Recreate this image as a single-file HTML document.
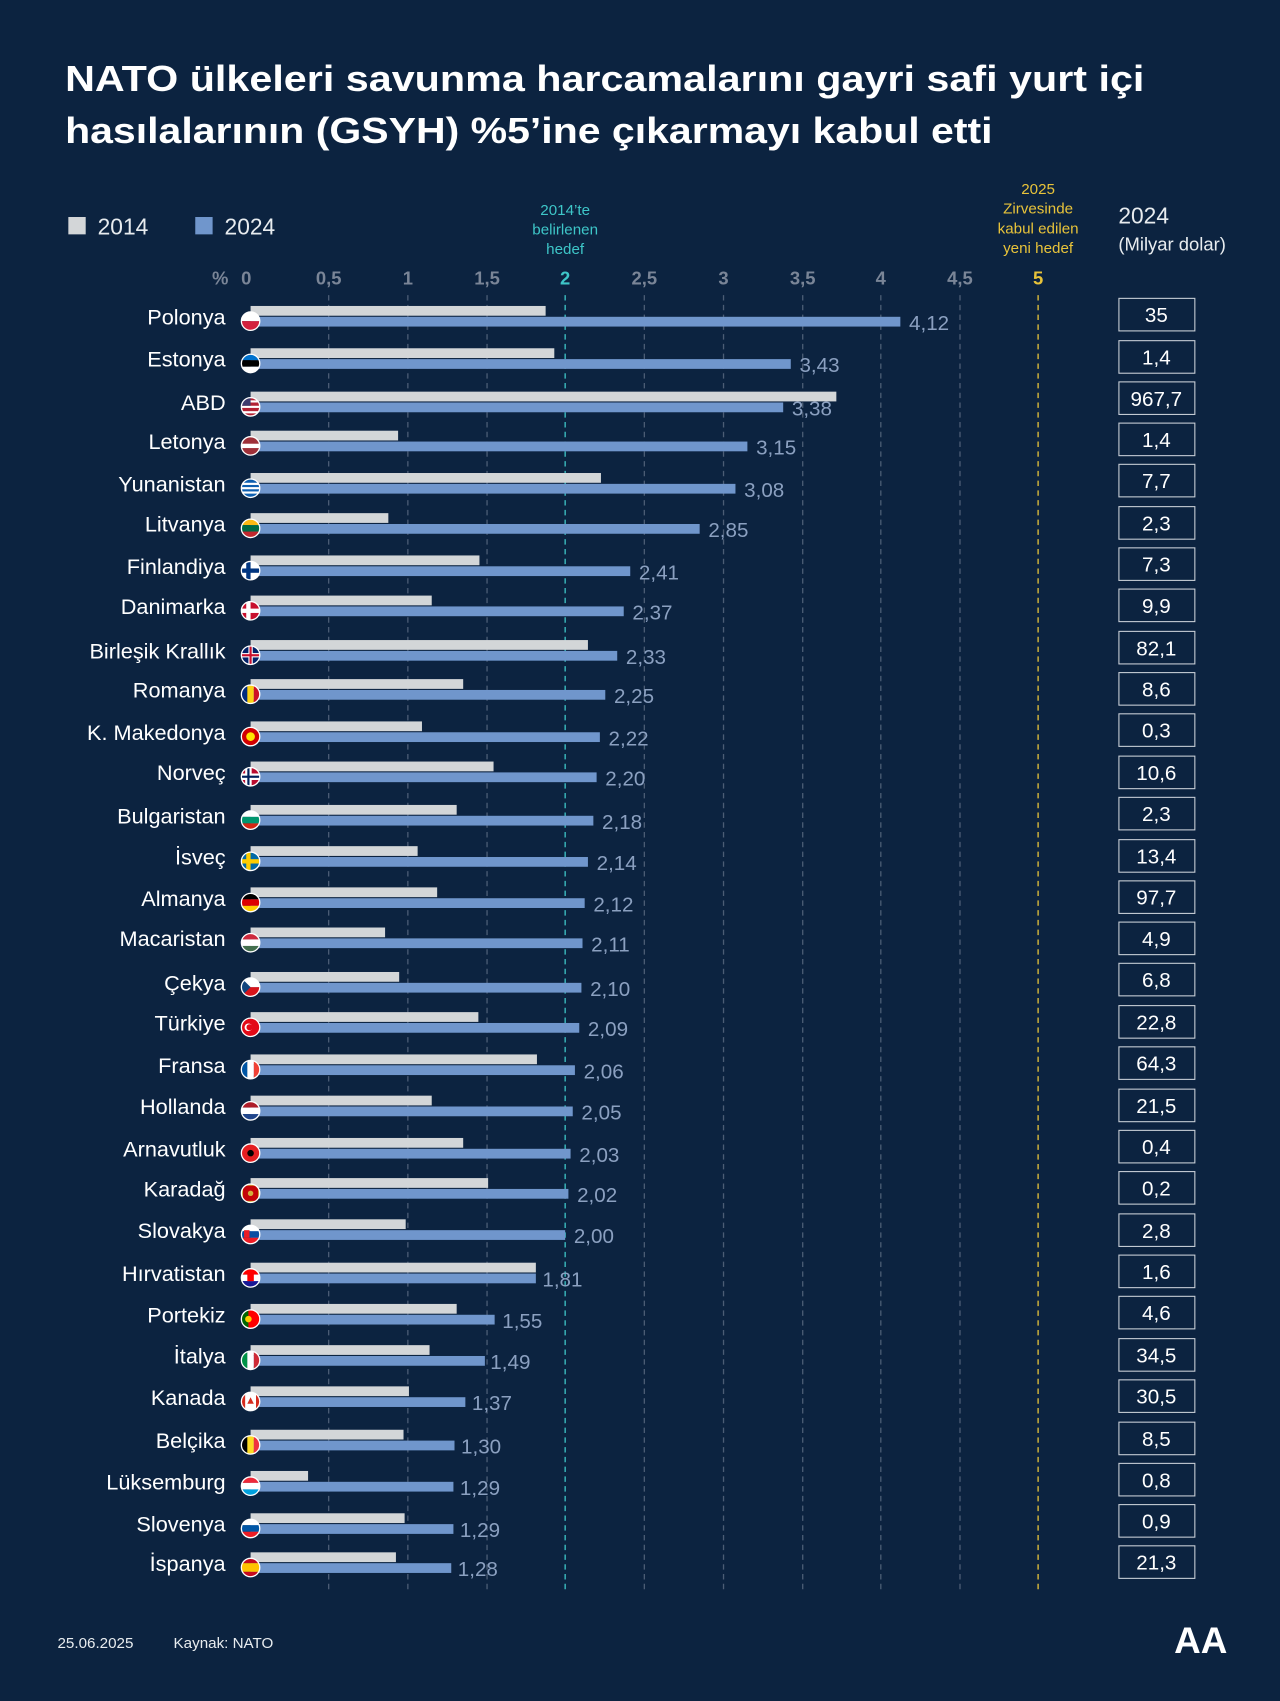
<!DOCTYPE html>
<html><head><meta charset="utf-8"><style>
html,body{margin:0;padding:0;background:#0c2340;}
svg{display:block}
text{font-family:"Liberation Sans","DejaVu Sans",sans-serif;}
.g{fill:#d3d6d8}.b{fill:#7096cc}
.v{fill:#8ba0c0;font-size:19px}
.n{fill:#fff;font-size:20px;text-anchor:end}
.bx{fill:none;stroke:#c8ced6;stroke-width:1}
.bt{fill:#fff;font-size:19px;text-anchor:middle}
.fr{fill:none;stroke:#fff;stroke-width:1.2}
</style></head><body>
<svg width="1280" height="1701" viewBox="0 0 1180 1568" xmlns="http://www.w3.org/2000/svg">
<defs><clipPath id="fc"><circle cx="231" cy="4" r="8.5"/></clipPath></defs>
<rect width="1180" height="1568" fill="#0c2340"/>
<text x="60" y="84" fill="#fff" font-size="33" font-weight="bold" textLength="995" lengthAdjust="spacingAndGlyphs">NATO ülkeleri savunma harcamalarını gayri safi yurt içi</text>
<text x="60" y="132" fill="#fff" font-size="33" font-weight="bold" textLength="855" lengthAdjust="spacingAndGlyphs">hasılalarının (GSYH) %5’ine çıkarmayı kabul etti</text>
<rect x="63" y="200" width="16" height="16" fill="#d3d6d8"/>
<text x="90" y="216" fill="#e8ecef" font-size="21">2014</text>
<rect x="180" y="200" width="16" height="16" fill="#7096cc"/>
<text x="207" y="216" fill="#e8ecef" font-size="21">2024</text>
<g font-size="14" text-anchor="middle">
<text x="521" y="198" fill="#3ec6c8">2014’te</text>
<text x="521" y="216" fill="#3ec6c8">belirlenen</text>
<text x="521" y="234" fill="#3ec6c8">hedef</text>
<text x="957" y="179" fill="#e8c33a">2025</text>
<text x="957" y="197" fill="#e8c33a">Zirvesinde</text>
<text x="957" y="215" fill="#e8c33a">kabul edilen</text>
<text x="957" y="233" fill="#e8c33a">yeni hedef</text>
</g>
<text x="1031" y="206" fill="#e8ecef" font-size="21">2024</text>
<text x="1031" y="231" fill="#e8ecef" font-size="17">(Milyar dolar)</text>
<g font-size="17" font-weight="bold" text-anchor="middle" fill="#7a8597">
<text x="203" y="262">%</text><text x="227" y="262">0</text><text x="303" y="262">0,5</text><text x="376" y="262">1</text><text x="449" y="262">1,5</text><text x="521" y="262" fill="#3ec6c8">2</text><text x="594" y="262">2,5</text><text x="667" y="262">3</text><text x="740" y="262">3,5</text><text x="812" y="262">4</text><text x="885" y="262">4,5</text><text x="957" y="262" fill="#e8c33a">5</text>
</g>
<g stroke-dasharray="5,4" stroke-width="1.2">
<line x1="303" y1="272" x2="303" y2="1465" stroke="#4c5d75"/>
<line x1="376" y1="272" x2="376" y2="1465" stroke="#4c5d75"/>
<line x1="449" y1="272" x2="449" y2="1465" stroke="#4c5d75"/>
<line x1="521" y1="272" x2="521" y2="1465" stroke="#3ec6c8"/>
<line x1="594" y1="272" x2="594" y2="1465" stroke="#4c5d75"/>
<line x1="667" y1="272" x2="667" y2="1465" stroke="#4c5d75"/>
<line x1="740" y1="272" x2="740" y2="1465" stroke="#4c5d75"/>
<line x1="812" y1="272" x2="812" y2="1465" stroke="#4c5d75"/>
<line x1="885" y1="272" x2="885" y2="1465" stroke="#4c5d75"/>
<line x1="957" y1="272" x2="957" y2="1465" stroke="#e8c33a"/>
</g>

<g transform="translate(0,292)"><rect x="231" y="-10" width="272" height="9" class="g"/><rect x="231" y="0" width="599" height="9" class="b"/><text x="838" y="12" class="v">4,12</text><text x="208" y="7" class="n">Polonya</text><g clip-path="url(#fc)"><rect x="222" y="-5" width="18" height="9" fill="#fff"/><rect x="222" y="4" width="18" height="9" fill="#d4213d"/></g><circle cx="231" cy="4" r="8.5" class="fr"/><rect x="1031.5" y="-17" width="70" height="30" class="bx"/><text x="1066" y="5" class="bt">35</text></g>
<g transform="translate(0,331)"><rect x="231" y="-10" width="280" height="9" class="g"/><rect x="231" y="0" width="498" height="9" class="b"/><text x="737" y="12" class="v">3,43</text><text x="208" y="7" class="n">Estonya</text><g clip-path="url(#fc)"><rect x="222" y="-5" width="18" height="6" fill="#0072ce"/><rect x="222" y="1" width="18" height="6" fill="#000"/><rect x="222" y="7" width="18" height="6" fill="#fff"/></g><circle cx="231" cy="4" r="8.5" class="fr"/><rect x="1031.5" y="-17" width="70" height="30" class="bx"/><text x="1066" y="5" class="bt">1,4</text></g>
<g transform="translate(0,371)"><rect x="231" y="-10" width="540" height="9" class="g"/><rect x="231" y="0" width="491" height="9" class="b"/><text x="730" y="12" class="v">3,38</text><text x="208" y="7" class="n">ABD</text><g clip-path="url(#fc)"><rect x="222" y="-5" width="18" height="18" fill="#b22234"/><rect x="222" y="-2" width="18" height="2" fill="#fff"/><rect x="222" y="3" width="18" height="2" fill="#fff"/><rect x="222" y="8" width="18" height="2" fill="#fff"/><rect x="222" y="-5" width="9" height="8" fill="#3c3b6e"/></g><circle cx="231" cy="4" r="8.5" class="fr"/><rect x="1031.5" y="-19" width="70" height="30" class="bx"/><text x="1066" y="3" class="bt">967,7</text></g>
<g transform="translate(0,407)"><rect x="231" y="-10" width="136" height="9" class="g"/><rect x="231" y="0" width="458" height="9" class="b"/><text x="697" y="12" class="v">3,15</text><text x="208" y="7" class="n">Letonya</text><g clip-path="url(#fc)"><rect x="222" y="-5" width="18" height="18" fill="#9e3039"/><rect x="222" y="2" width="18" height="4" fill="#fff"/></g><circle cx="231" cy="4" r="8.5" class="fr"/><rect x="1031.5" y="-17" width="70" height="30" class="bx"/><text x="1066" y="5" class="bt">1,4</text></g>
<g transform="translate(0,446)"><rect x="231" y="-10" width="323" height="9" class="g"/><rect x="231" y="0" width="447" height="9" class="b"/><text x="686" y="12" class="v">3,08</text><text x="208" y="7" class="n">Yunanistan</text><g clip-path="url(#fc)"><rect x="222" y="-5" width="18" height="18" fill="#0d5eaf"/><rect x="222" y="-1" width="18" height="2" fill="#fff"/><rect x="222" y="3" width="18" height="2" fill="#fff"/><rect x="222" y="7" width="18" height="2" fill="#fff"/></g><circle cx="231" cy="4" r="8.5" class="fr"/><rect x="1031.5" y="-18" width="70" height="30" class="bx"/><text x="1066" y="4" class="bt">7,7</text></g>
<g transform="translate(0,483)"><rect x="231" y="-10" width="127" height="9" class="g"/><rect x="231" y="0" width="414" height="9" class="b"/><text x="653" y="12" class="v">2,85</text><text x="208" y="7" class="n">Litvanya</text><g clip-path="url(#fc)"><rect x="222" y="-5" width="18" height="6" fill="#fdb913"/><rect x="222" y="1" width="18" height="6" fill="#006a44"/><rect x="222" y="7" width="18" height="6" fill="#c1272d"/></g><circle cx="231" cy="4" r="8.5" class="fr"/><rect x="1031.5" y="-16" width="70" height="30" class="bx"/><text x="1066" y="6" class="bt">2,3</text></g>
<g transform="translate(0,522)"><rect x="231" y="-10" width="211" height="9" class="g"/><rect x="231" y="0" width="350" height="9" class="b"/><text x="589" y="12" class="v">2,41</text><text x="208" y="7" class="n">Finlandiya</text><g clip-path="url(#fc)"><rect x="222" y="-5" width="18" height="18" fill="#fff"/><rect x="222" y="2" width="18" height="4" fill="#003580"/><rect x="227" y="-5" width="4" height="18" fill="#003580"/></g><circle cx="231" cy="4" r="8.5" class="fr"/><rect x="1031.5" y="-17" width="70" height="30" class="bx"/><text x="1066" y="5" class="bt">7,3</text></g>
<g transform="translate(0,559)"><rect x="231" y="-10" width="167" height="9" class="g"/><rect x="231" y="0" width="344" height="9" class="b"/><text x="583" y="12" class="v">2,37</text><text x="208" y="7" class="n">Danimarka</text><g clip-path="url(#fc)"><rect x="222" y="-5" width="18" height="18" fill="#c8102e"/><rect x="222" y="2" width="18" height="4" fill="#fff"/><rect x="227" y="-5" width="4" height="18" fill="#fff"/></g><circle cx="231" cy="4" r="8.5" class="fr"/><rect x="1031.5" y="-16" width="70" height="30" class="bx"/><text x="1066" y="6" class="bt">9,9</text></g>
<g transform="translate(0,600)"><rect x="231" y="-10" width="311" height="9" class="g"/><rect x="231" y="0" width="338" height="9" class="b"/><text x="577" y="12" class="v">2,33</text><text x="208" y="7" class="n">Birleşik Krallık</text><g clip-path="url(#fc)"><rect x="222" y="-5" width="18" height="18" fill="#012169"/><rect x="222" y="2" width="18" height="4" fill="#fff"/><rect x="229" y="-5" width="4" height="18" fill="#fff"/><rect x="222" y="3" width="18" height="2" fill="#c8102e"/><rect x="230" y="-5" width="2" height="18" fill="#c8102e"/></g><circle cx="231" cy="4" r="8.5" class="fr"/><rect x="1031.5" y="-18" width="70" height="30" class="bx"/><text x="1066" y="4" class="bt">82,1</text></g>
<g transform="translate(0,636)"><rect x="231" y="-10" width="196" height="9" class="g"/><rect x="231" y="0" width="327" height="9" class="b"/><text x="566" y="12" class="v">2,25</text><text x="208" y="7" class="n">Romanya</text><g clip-path="url(#fc)"><rect x="222" y="-5" width="6" height="18" fill="#002b7f"/><rect x="228" y="-5" width="6" height="18" fill="#fcd116"/><rect x="234" y="-5" width="6" height="18" fill="#ce1126"/></g><circle cx="231" cy="4" r="8.5" class="fr"/><rect x="1031.5" y="-16" width="70" height="30" class="bx"/><text x="1066" y="6" class="bt">8,6</text></g>
<g transform="translate(0,675)"><rect x="231" y="-10" width="158" height="9" class="g"/><rect x="231" y="0" width="322" height="9" class="b"/><text x="561" y="12" class="v">2,22</text><text x="208" y="7" class="n">K. Makedonya</text><g clip-path="url(#fc)"><rect x="222" y="-5" width="18" height="18" fill="#d20000"/><circle cx="231" cy="4" r="4" fill="#ffe600"/></g><circle cx="231" cy="4" r="8.5" class="fr"/><rect x="1031.5" y="-17" width="70" height="30" class="bx"/><text x="1066" y="5" class="bt">0,3</text></g>
<g transform="translate(0,712)"><rect x="231" y="-10" width="224" height="9" class="g"/><rect x="231" y="0" width="319" height="9" class="b"/><text x="558" y="12" class="v">2,20</text><text x="208" y="7" class="n">Norveç</text><g clip-path="url(#fc)"><rect x="222" y="-5" width="18" height="18" fill="#ba0c2f"/><rect x="222" y="1" width="18" height="6" fill="#fff"/><rect x="226" y="-5" width="6" height="18" fill="#fff"/><rect x="222" y="3" width="18" height="2" fill="#00205b"/><rect x="228" y="-5" width="2" height="18" fill="#00205b"/></g><circle cx="231" cy="4" r="8.5" class="fr"/><rect x="1031.5" y="-15" width="70" height="30" class="bx"/><text x="1066" y="7" class="bt">10,6</text></g>
<g transform="translate(0,752)"><rect x="231" y="-10" width="190" height="9" class="g"/><rect x="231" y="0" width="316" height="9" class="b"/><text x="555" y="12" class="v">2,18</text><text x="208" y="7" class="n">Bulgaristan</text><g clip-path="url(#fc)"><rect x="222" y="-5" width="18" height="6" fill="#fff"/><rect x="222" y="1" width="18" height="6" fill="#00966e"/><rect x="222" y="7" width="18" height="6" fill="#d62612"/></g><circle cx="231" cy="4" r="8.5" class="fr"/><rect x="1031.5" y="-17" width="70" height="30" class="bx"/><text x="1066" y="5" class="bt">2,3</text></g>
<g transform="translate(0,790)"><rect x="231" y="-10" width="154" height="9" class="g"/><rect x="231" y="0" width="311" height="9" class="b"/><text x="550" y="12" class="v">2,14</text><text x="208" y="7" class="n">İsveç</text><g clip-path="url(#fc)"><rect x="222" y="-5" width="18" height="18" fill="#006aa7"/><rect x="222" y="2" width="18" height="4" fill="#fecc00"/><rect x="227" y="-5" width="4" height="18" fill="#fecc00"/></g><circle cx="231" cy="4" r="8.5" class="fr"/><rect x="1031.5" y="-16" width="70" height="30" class="bx"/><text x="1066" y="6" class="bt">13,4</text></g>
<g transform="translate(0,828)"><rect x="231" y="-10" width="172" height="9" class="g"/><rect x="231" y="0" width="308" height="9" class="b"/><text x="547" y="12" class="v">2,12</text><text x="208" y="7" class="n">Almanya</text><g clip-path="url(#fc)"><rect x="222" y="-5" width="18" height="6" fill="#000"/><rect x="222" y="1" width="18" height="6" fill="#dd0000"/><rect x="222" y="7" width="18" height="6" fill="#ffce00"/></g><circle cx="231" cy="4" r="8.5" class="fr"/><rect x="1031.5" y="-16" width="70" height="30" class="bx"/><text x="1066" y="6" class="bt">97,7</text></g>
<g transform="translate(0,865)"><rect x="231" y="-10" width="124" height="9" class="g"/><rect x="231" y="0" width="306" height="9" class="b"/><text x="545" y="12" class="v">2,11</text><text x="208" y="7" class="n">Macaristan</text><g clip-path="url(#fc)"><rect x="222" y="-5" width="18" height="6" fill="#cd2a3e"/><rect x="222" y="1" width="18" height="6" fill="#fff"/><rect x="222" y="7" width="18" height="6" fill="#436f4d"/></g><circle cx="231" cy="4" r="8.5" class="fr"/><rect x="1031.5" y="-15" width="70" height="30" class="bx"/><text x="1066" y="7" class="bt">4,9</text></g>
<g transform="translate(0,906)"><rect x="231" y="-10" width="137" height="9" class="g"/><rect x="231" y="0" width="305" height="9" class="b"/><text x="544" y="12" class="v">2,10</text><text x="208" y="7" class="n">Çekya</text><g clip-path="url(#fc)"><rect x="222" y="-5" width="18" height="9" fill="#fff"/><rect x="222" y="4" width="18" height="9" fill="#d7141a"/><path d="M222,-5 L231,4 L222,13 Z" fill="#11457e"/></g><circle cx="231" cy="4" r="8.5" class="fr"/><rect x="1031.5" y="-18" width="70" height="30" class="bx"/><text x="1066" y="4" class="bt">6,8</text></g>
<g transform="translate(0,943)"><rect x="231" y="-10" width="210" height="9" class="g"/><rect x="231" y="0" width="303" height="9" class="b"/><text x="542" y="12" class="v">2,09</text><text x="208" y="7" class="n">Türkiye</text><g clip-path="url(#fc)"><rect x="222" y="-5" width="18" height="18" fill="#e30a17"/><circle cx="229" cy="4" r="3.5" fill="#fff"/><circle cx="230" cy="4" r="2.8" fill="#e30a17"/></g><circle cx="231" cy="4" r="8.5" class="fr"/><rect x="1031.5" y="-16" width="70" height="30" class="bx"/><text x="1066" y="6" class="bt">22,8</text></g>
<g transform="translate(0,982)"><rect x="231" y="-10" width="264" height="9" class="g"/><rect x="231" y="0" width="299" height="9" class="b"/><text x="538" y="12" class="v">2,06</text><text x="208" y="7" class="n">Fransa</text><g clip-path="url(#fc)"><rect x="222" y="-5" width="6" height="18" fill="#0055a4"/><rect x="228" y="-5" width="6" height="18" fill="#fff"/><rect x="234" y="-5" width="6" height="18" fill="#ef4135"/></g><circle cx="231" cy="4" r="8.5" class="fr"/><rect x="1031.5" y="-17" width="70" height="30" class="bx"/><text x="1066" y="5" class="bt">64,3</text></g>
<g transform="translate(0,1020)"><rect x="231" y="-10" width="167" height="9" class="g"/><rect x="231" y="0" width="297" height="9" class="b"/><text x="536" y="12" class="v">2,05</text><text x="208" y="7" class="n">Hollanda</text><g clip-path="url(#fc)"><rect x="222" y="-5" width="18" height="6" fill="#ae1c28"/><rect x="222" y="1" width="18" height="6" fill="#fff"/><rect x="222" y="7" width="18" height="6" fill="#21468b"/></g><circle cx="231" cy="4" r="8.5" class="fr"/><rect x="1031.5" y="-16" width="70" height="30" class="bx"/><text x="1066" y="6" class="bt">21,5</text></g>
<g transform="translate(0,1059)"><rect x="231" y="-10" width="196" height="9" class="g"/><rect x="231" y="0" width="295" height="9" class="b"/><text x="534" y="12" class="v">2,03</text><text x="208" y="7" class="n">Arnavutluk</text><g clip-path="url(#fc)"><rect x="222" y="-5" width="18" height="18" fill="#e41e20"/><circle cx="231" cy="4" r="3" fill="#000"/></g><circle cx="231" cy="4" r="8.5" class="fr"/><rect x="1031.5" y="-17" width="70" height="30" class="bx"/><text x="1066" y="5" class="bt">0,4</text></g>
<g transform="translate(0,1096)"><rect x="231" y="-10" width="219" height="9" class="g"/><rect x="231" y="0" width="293" height="9" class="b"/><text x="532" y="12" class="v">2,02</text><text x="208" y="7" class="n">Karadağ</text><g clip-path="url(#fc)"><rect x="222" y="-5" width="18" height="18" fill="#d3ae3b"/><rect x="224" y="-3" width="14" height="14" fill="#c40308"/><circle cx="231" cy="4" r="2.5" fill="#d3ae3b"/></g><circle cx="231" cy="4" r="8.5" class="fr"/><rect x="1031.5" y="-16" width="70" height="30" class="bx"/><text x="1066" y="6" class="bt">0,2</text></g>
<g transform="translate(0,1134)"><rect x="231" y="-10" width="143" height="9" class="g"/><rect x="231" y="0" width="290" height="9" class="b"/><text x="529" y="12" class="v">2,00</text><text x="208" y="7" class="n">Slovakya</text><g clip-path="url(#fc)"><rect x="222" y="-5" width="18" height="6" fill="#fff"/><rect x="222" y="1" width="18" height="6" fill="#0b4ea2"/><rect x="222" y="7" width="18" height="6" fill="#ee1c25"/><rect x="225" y="0" width="5" height="7" fill="#ee1c25"/></g><circle cx="231" cy="4" r="8.5" class="fr"/><rect x="1031.5" y="-15" width="70" height="30" class="bx"/><text x="1066" y="7" class="bt">2,8</text></g>
<g transform="translate(0,1174)"><rect x="231" y="-10" width="263" height="9" class="g"/><rect x="231" y="0" width="263" height="9" class="b"/><text x="500" y="12" class="v">1,81</text><text x="208" y="7" class="n">Hırvatistan</text><g clip-path="url(#fc)"><rect x="222" y="-5" width="18" height="6" fill="#ff0000"/><rect x="222" y="1" width="18" height="6" fill="#fff"/><rect x="222" y="7" width="18" height="6" fill="#171796"/><rect x="228" y="0" width="6" height="7" fill="#ff0000"/></g><circle cx="231" cy="4" r="8.5" class="fr"/><rect x="1031.5" y="-17" width="70" height="30" class="bx"/><text x="1066" y="5" class="bt">1,6</text></g>
<g transform="translate(0,1212)"><rect x="231" y="-10" width="190" height="9" class="g"/><rect x="231" y="0" width="225" height="9" class="b"/><text x="463" y="12" class="v">1,55</text><text x="208" y="7" class="n">Portekiz</text><g clip-path="url(#fc)"><rect x="222" y="-5" width="18" height="18" fill="#ff0000"/><rect x="222" y="-5" width="7" height="18" fill="#006600"/><circle cx="229" cy="4" r="3" fill="#ffcc00"/></g><circle cx="231" cy="4" r="8.5" class="fr"/><rect x="1031.5" y="-17" width="70" height="30" class="bx"/><text x="1066" y="5" class="bt">4,6</text></g>
<g transform="translate(0,1250)"><rect x="231" y="-10" width="165" height="9" class="g"/><rect x="231" y="0" width="216" height="9" class="b"/><text x="452" y="12" class="v">1,49</text><text x="208" y="7" class="n">İtalya</text><g clip-path="url(#fc)"><rect x="222" y="-5" width="6" height="18" fill="#009246"/><rect x="228" y="-5" width="6" height="18" fill="#fff"/><rect x="234" y="-5" width="6" height="18" fill="#ce2b37"/></g><circle cx="231" cy="4" r="8.5" class="fr"/><rect x="1031.5" y="-16" width="70" height="30" class="bx"/><text x="1066" y="6" class="bt">34,5</text></g>
<g transform="translate(0,1288)"><rect x="231" y="-10" width="146" height="9" class="g"/><rect x="231" y="0" width="198" height="9" class="b"/><text x="435" y="12" class="v">1,37</text><text x="208" y="7" class="n">Kanada</text><g clip-path="url(#fc)"><rect x="222" y="-5" width="18" height="18" fill="#fff"/><rect x="222" y="-5" width="4" height="18" fill="#d52b1e"/><rect x="236" y="-5" width="4" height="18" fill="#d52b1e"/><path d="M231,0 L234,6 L228,6 Z" fill="#d52b1e"/></g><circle cx="231" cy="4" r="8.5" class="fr"/><rect x="1031.5" y="-16" width="70" height="30" class="bx"/><text x="1066" y="6" class="bt">30,5</text></g>
<g transform="translate(0,1328)"><rect x="231" y="-10" width="141" height="9" class="g"/><rect x="231" y="0" width="188" height="9" class="b"/><text x="425" y="12" class="v">1,30</text><text x="208" y="7" class="n">Belçika</text><g clip-path="url(#fc)"><rect x="222" y="-5" width="6" height="18" fill="#000"/><rect x="228" y="-5" width="6" height="18" fill="#fdda24"/><rect x="234" y="-5" width="6" height="18" fill="#ef3340"/></g><circle cx="231" cy="4" r="8.5" class="fr"/><rect x="1031.5" y="-17" width="70" height="30" class="bx"/><text x="1066" y="5" class="bt">8,5</text></g>
<g transform="translate(0,1366)"><rect x="231" y="-10" width="53" height="9" class="g"/><rect x="231" y="0" width="187" height="9" class="b"/><text x="424" y="12" class="v">1,29</text><text x="208" y="7" class="n">Lüksemburg</text><g clip-path="url(#fc)"><rect x="222" y="-5" width="18" height="6" fill="#ed2939"/><rect x="222" y="1" width="18" height="6" fill="#fff"/><rect x="222" y="7" width="18" height="6" fill="#00a1de"/></g><circle cx="231" cy="4" r="8.5" class="fr"/><rect x="1031.5" y="-17" width="70" height="30" class="bx"/><text x="1066" y="5" class="bt">0,8</text></g>
<g transform="translate(0,1405)"><rect x="231" y="-10" width="142" height="9" class="g"/><rect x="231" y="0" width="187" height="9" class="b"/><text x="424" y="12" class="v">1,29</text><text x="208" y="7" class="n">Slovenya</text><g clip-path="url(#fc)"><rect x="222" y="-5" width="18" height="6" fill="#fff"/><rect x="222" y="1" width="18" height="6" fill="#0056a6"/><rect x="222" y="7" width="18" height="6" fill="#ed1c24"/></g><circle cx="231" cy="4" r="8.5" class="fr"/><rect x="1031.5" y="-18" width="70" height="30" class="bx"/><text x="1066" y="4" class="bt">0,9</text></g>
<g transform="translate(0,1441)"><rect x="231" y="-10" width="134" height="9" class="g"/><rect x="231" y="0" width="185" height="9" class="b"/><text x="422" y="12" class="v">1,28</text><text x="208" y="7" class="n">İspanya</text><g clip-path="url(#fc)"><rect x="222" y="-5" width="18" height="5" fill="#c60b1e"/><rect x="222" y="0" width="18" height="8" fill="#ffc400"/><rect x="222" y="8" width="18" height="5" fill="#c60b1e"/></g><circle cx="231" cy="4" r="8.5" class="fr"/><rect x="1031.5" y="-16" width="70" height="30" class="bx"/><text x="1066" y="6" class="bt">21,3</text></g>

<text x="53" y="1519" fill="#e8ecef" font-size="14">25.06.2025</text>
<text x="160" y="1519" fill="#e8ecef" font-size="14">Kaynak: NATO</text>
<text x="1107" y="1524" fill="#fff" font-size="34" font-weight="bold" text-anchor="middle">AA</text>
</svg>
</body></html>
